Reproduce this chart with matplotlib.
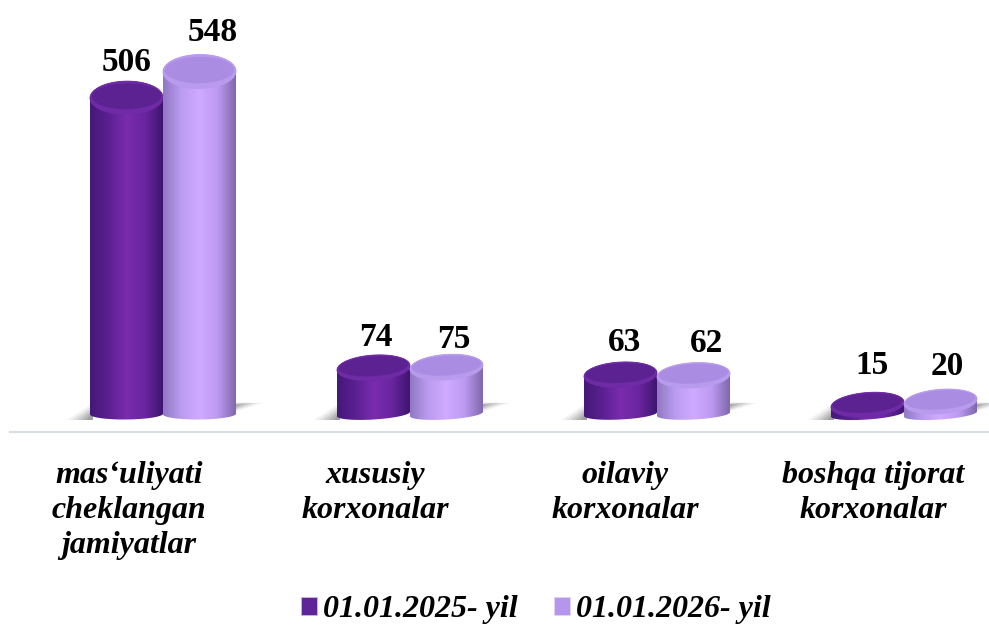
import numpy as np
import matplotlib
matplotlib.use("Agg")
import matplotlib.pyplot as plt
from matplotlib.colors import LinearSegmentedColormap
from matplotlib.patches import Patch, Polygon

# data
categories = ["mas‘uliyati\ncheklangan\njamiyatlar", "xususiy\nkorxonalar",
              "oilaviy\nkorxonalar", "boshqa tijorat\nkorxonalar"]
series_names = ["01.01.2025- yil", "01.01.2026- yil"]
values_2025 = [506, 74, 63, 15]
values_2026 = [548, 75, 62, 20]

# layout, in pixels of the 989x626 picture
W, H = 989, 626
GROUP0, GROUP_STEP = 163, 247
BASE_Y = 414
PX_PER_UNIT = 0.625
BAR_W = 73
BASE_HH = 5.5
tilts = [0.01, 0.06, 0.05, 0.07]
label_dx = [-34, -35, -32, -31]
value_dx = [[0, 13], [2, 7], [4, 13], [5, 7]]
value_dy = [[35, 39], [30, 28], [32, 32], [39, 35]]

plt.rcParams['font.family'] = ['Liberation Serif', 'DejaVu Serif']

fig = plt.figure(figsize=(W / 100, H / 100), dpi=100)
ax = fig.add_axes([0, 0, 1, 1])
ax.set_xlim(-GROUP0 / GROUP_STEP, (W - GROUP0) / GROUP_STEP)
ax.set_ylim((BASE_Y - H) / PX_PER_UNIT, BASE_Y / PX_PER_UNIT)
ax.axis("off")

ux = BAR_W / GROUP_STEP / 2      # half bar width, x units
uy = 1 / PX_PER_UNIT             # one pixel, y units

dark_body = LinearSegmentedColormap.from_list("d", ["#451879", "#5a2091", "#7a2cae", "#6a25a0", "#3f1570"])
light_body = LinearSegmentedColormap.from_list("l", ["#9078c4", "#bb9cf0", "#d0aaff", "#bd9af2", "#8068ac"])
grad = np.linspace(0, 1, 128).reshape(1, -1)


def ellipse(xc, yc, hw, hh, tilt):
    t = np.linspace(0, 2 * np.pi, 120)
    x = xc + hw * np.cos(t)
    y = yc + hh * uy * np.sin(t) + tilt * (hw * GROUP_STEP) * np.cos(t) * uy
    return np.column_stack([x, y])


def cylinder(xc, value, tilt, cmap, rim, top, z):
    # side wall: lower half of base ellipse + upper edge at the top ellipse
    top_hh = 12 + 5 * value / 548
    base = ellipse(xc, 0, ux, BASE_HH, tilt)
    cap = ellipse(xc, value, ux, top_hh, tilt)
    body = Polygon(np.vstack([base[60:], cap[:60]]), closed=True, fc="none", ec="none",
                   transform=ax.transData)
    ax.add_patch(body)
    im = ax.imshow(grad, cmap=cmap, aspect="auto", zorder=z, interpolation="bilinear",
                   extent=[xc - ux, xc + ux, -40 * uy, value + 40 * uy])
    im.set_clip_path(body)
    ax.fill(cap[:, 0], cap[:, 1], color=rim, lw=0.6, zorder=z + 0.1)
    inner = ellipse(xc, value + 1.5 * uy, ux * 0.95, top_hh * 0.78, tilt)
    ax.fill(inner[:, 0], inner[:, 1], color=top, lw=0, zorder=z + 0.2)


def shadow(xc):
    # soft grey wedges on the floor, left and right of each pair of bars
    for a, k in zip([0.08, 0.12, 0.16, 0.2, 0.24], [1.0, 0.8, 0.6, 0.4, 0.2]):
        lx = np.array([-72 - 24 * k, -70, -70])
        ly = np.array([-6, -6 + 17 * (0.3 + 0.7 * k), -6])
        ax.fill(xc + lx / GROUP_STEP, ly * uy, color="#5f5f5f", alpha=a, lw=0, zorder=1)
        rx = np.array([70, 72 + 28 * k, 70])
        ry = np.array([7 + 5 * k, 11, 7 - 5 * k])
        ax.fill(xc + rx / GROUP_STEP, ry * uy, color="#5f5f5f", alpha=a, lw=0, zorder=1)


for i in range(len(categories)):
    xc = float(i)
    shadow(xc)
    cylinder(xc - ux, values_2025[i], tilts[i], dark_body, "#6f2aa6", "#5d2292", 3)
    cylinder(xc + ux, values_2026[i], tilts[i], light_body, "#b99bee", "#aa8de2", 4)
    ax.annotate(str(values_2025[i]), (xc - ux, values_2025[i]), xytext=(value_dx[i][0], value_dy[i][0]),
                textcoords="offset pixels", ha="center", va="center",
                fontsize=24, fontweight="bold", zorder=6)
    ax.annotate(str(values_2026[i]), (xc + ux, values_2026[i]), xytext=(value_dx[i][1], value_dy[i][1]),
                textcoords="offset pixels", ha="center", va="center",
                fontsize=24, fontweight="bold", zorder=6)
    ax.annotate(categories[i], (xc, 0), xytext=(label_dx[i], BASE_Y - 461),
                textcoords="offset pixels", ha="center", va="top", fontsize=23,
                fontweight="bold", fontstyle="italic", linespacing=1.28)

# floor line
ax.plot([-GROUP0 / GROUP_STEP + 10 / GROUP_STEP, (W - GROUP0) / GROUP_STEP], [(BASE_Y - 432) * uy] * 2,
        color="#d9dfe3", lw=1.6, zorder=1)

handles = [Patch(fc="#5f2497", ec="#c9b8e0", lw=0.6), Patch(fc="#b596ec", ec="#e0d4f5", lw=0.6)]
ax.legend(handles, series_names, ncol=2, frameon=False, loc="lower center",
          bbox_to_anchor=(536 / W, -27 / H), handlelength=0.5, handleheight=0.5, handletextpad=0.19,
          columnspacing=1.15, prop={"size": 23, "weight": "bold", "style": "italic"})

fig.savefig("out.png", dpi=100)
